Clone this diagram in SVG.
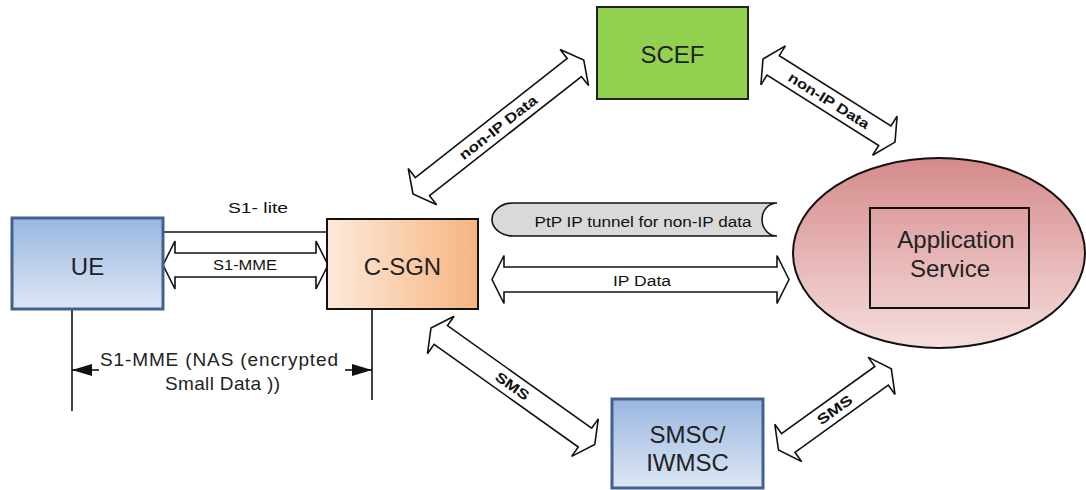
<svg xmlns="http://www.w3.org/2000/svg" width="1086" height="490" viewBox="0 0 1086 490">
  <defs>
    <linearGradient id="gBlue" x1="0" y1="0" x2="0" y2="1">
      <stop offset="0" stop-color="#9ab6e0"/>
      <stop offset="1" stop-color="#dde7f5"/>
    </linearGradient>
    <linearGradient id="gPeach" x1="0" y1="0" x2="1" y2="0">
      <stop offset="0" stop-color="#feeadb"/>
      <stop offset="1" stop-color="#f5b47f"/>
    </linearGradient>
    <linearGradient id="gRose" x1="0" y1="0" x2="0" y2="1">
      <stop offset="0" stop-color="#d68a8a"/>
      <stop offset="1" stop-color="#f5dede"/>
    </linearGradient>
    <!-- horizontal double-headed block arrow, 0..L along x, centred on y=0 -->
    <marker id="dimHead" viewBox="0 0 20 12" refX="20" refY="6" markerWidth="20" markerHeight="12" markerUnits="userSpaceOnUse" orient="auto-start-reverse">
      <path d="M0,0 L20,6 L0,12 Z" fill="#111"/>
    </marker>
  </defs>
  <style>
    .big { font-family: "Liberation Sans", Arial, sans-serif; font-size: 24px; fill: #222; text-anchor: middle; }
    .lbl { font-family: "Liberation Sans", Arial, sans-serif; font-size: 14px; fill: #111; text-anchor: middle; }
    .bold { font-weight: bold; }
    .dim { font-family: "Liberation Sans", Arial, sans-serif; font-size: 19px; fill: #222; }
    .blk { fill: #fff; stroke: #111; stroke-width: 1.6; stroke-linejoin: miter; }
    .ln { stroke: #111; stroke-width: 1.6; fill: none; }
  </style>

  <rect width="1086" height="490" fill="#fff"/>

  <!-- connectors -->
  <g id="connectors">
    <!-- S1-lite plain line -->
    <line class="ln" x1="163" y1="232" x2="327" y2="232"/>
    <text class="lbl" x="258" y="213" font-size="16" textLength="60" lengthAdjust="spacingAndGlyphs">S1- lite</text>

    <!-- S1-MME block arrow -->
    <g transform="translate(163,265)">
      <path class="blk" d="M0,0 L12,-24 L12,-12 L153,-12 L153,-24 L165,0 L153,24 L153,12 L12,12 L12,24 Z"/>
      <text class="lbl" x="82" y="5" textLength="64" lengthAdjust="spacingAndGlyphs">S1-MME</text>
    </g>

    <!-- IP Data block arrow -->
    <g transform="translate(492,279.5)">
      <path class="blk" d="M0,0 L12,-24 L12,-12.5 L285,-12.5 L285,-24 L297,0 L285,24 L285,12.5 L12,12.5 L12,24 Z"/>
      <text class="lbl" x="150" y="6" font-size="15" textLength="58" lengthAdjust="spacingAndGlyphs">IP Data</text>
    </g>

    <!-- PtP tunnel -->
    <path d="M513,203 L777,203 A15,16.5 0 0 0 777,236 L513,236 A21,16.5 0 0 1 513,203 Z" fill="#d9d9d9" stroke="#111" stroke-width="1.6"/>
    <text class="lbl" x="643" y="227" font-size="14" textLength="217" lengthAdjust="spacingAndGlyphs">PtP IP tunnel for non-IP data</text>

    <!-- C-SGN to SCEF -->
    <g transform="translate(413,194) rotate(-38.1)">
      <path class="blk" d="M0,0 L12,-23 L12,-11.5 L205,-11.5 L205,-23 L217,0 L205,23 L205,11.5 L12,11.5 L12,23 Z"/>
      <text class="lbl bold" x="108" y="5" font-size="13" textLength="95" lengthAdjust="spacingAndGlyphs">non-IP Data</text>
    </g>

    <!-- SCEF to Application Service -->
    <g transform="translate(763,59) rotate(32.2)">
      <path class="blk" d="M0,0 L12,-23 L12,-11.5 L144,-11.5 L144,-23 L156,0 L144,23 L144,11.5 L12,11.5 L12,23 Z"/>
      <text class="lbl bold" x="78" y="5" font-size="13" textLength="93" lengthAdjust="spacingAndGlyphs">non-IP Data</text>
    </g>

    <!-- C-SGN to SMSC -->
    <g transform="translate(431,328) rotate(35.45)">
      <path class="blk" d="M0,0 L12,-23 L12,-11.5 L189,-11.5 L189,-23 L201,0 L189,23 L189,11.5 L12,11.5 L12,23 Z"/>
      <text class="lbl bold" x="100" y="5" font-size="14" textLength="38" lengthAdjust="spacingAndGlyphs">SMS</text>
    </g>

    <!-- SMSC to Application Service -->
    <g transform="translate(778.5,450) rotate(-35.75)">
      <path class="blk" d="M0,0 L12,-23 L12,-11.5 L127,-11.5 L127,-23 L139,0 L127,23 L127,11.5 L12,11.5 L12,23 Z"/>
      <text class="lbl bold" x="69" y="5" font-size="14" textLength="40" lengthAdjust="spacingAndGlyphs">SMS</text>
    </g>

    <!-- NAS small-data dimension -->
    <line class="ln" x1="72" y1="309" x2="72" y2="411"/>
    <line class="ln" x1="372" y1="309" x2="372" y2="400"/>
    <line class="ln" x1="99" y1="370" x2="72" y2="370" marker-end="url(#dimHead)"/>
    <line class="ln" x1="345" y1="370" x2="372" y2="370" marker-end="url(#dimHead)"/>
    <text class="dim" x="100" y="366" textLength="238" lengthAdjust="spacing">S1-MME (NAS (encrypted</text>
    <text class="dim" x="165" y="390" textLength="115" lengthAdjust="spacing">Small Data ))</text>
  </g>

  <g id="ue">
    <rect x="12" y="218" width="151" height="91" fill="url(#gBlue)" stroke="#41628f" stroke-width="3"/>
    <text class="big" x="87.5" y="275">UE</text>
  </g>

  <g id="c-sgn">
    <rect x="327" y="219" width="151" height="90" fill="url(#gPeach)" stroke="#111" stroke-width="2"/>
    <text class="big" x="402.5" y="275">C-SGN</text>
  </g>

  <g id="scef">
    <rect x="597" y="7" width="151" height="92" fill="#92d050" stroke="#222" stroke-width="2"/>
    <text class="big" x="672.5" y="63">SCEF</text>
  </g>

  <g id="smsc">
    <rect x="612" y="399" width="151" height="89" fill="url(#gBlue)" stroke="#41628f" stroke-width="3"/>
    <text class="big" x="687.5" y="443">SMSC/</text>
    <text class="big" x="687.5" y="471">IWMSC</text>
  </g>

  <g id="app-service">
    <ellipse cx="939" cy="253" rx="146" ry="95" fill="url(#gRose)" stroke="#111" stroke-width="2"/>
    <rect x="870" y="208" width="159" height="100" fill="none" stroke="#111" stroke-width="2"/>
    <text class="big" x="956" y="248">Application</text>
    <text class="big" x="950" y="277">Service</text>
  </g>
</svg>
